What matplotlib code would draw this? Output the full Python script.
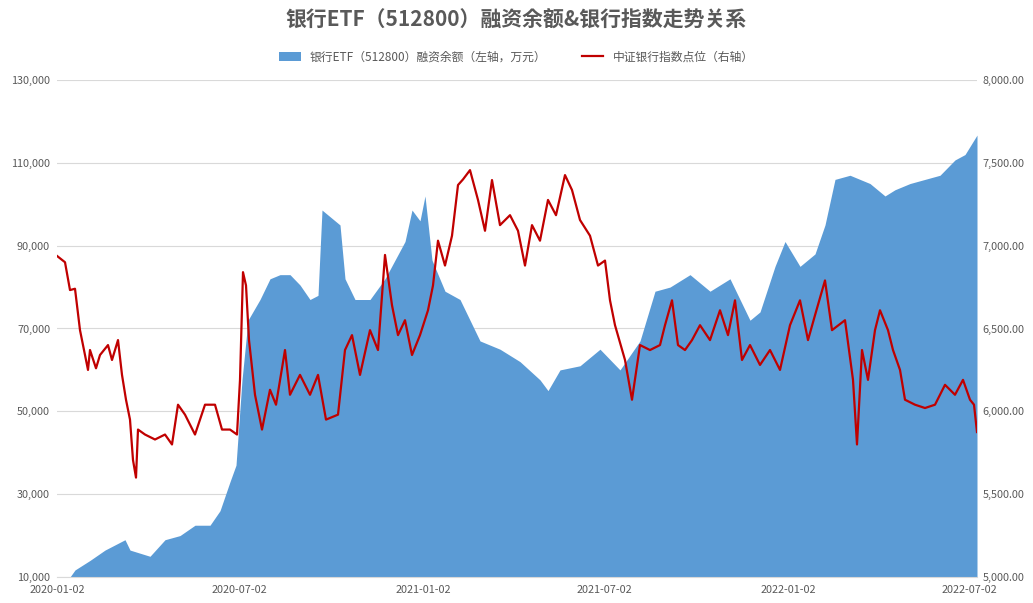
import matplotlib
matplotlib.use("Agg")
import matplotlib.pyplot as plt
from matplotlib import font_manager as fm
import numpy as np
import datetime as dt

cjk = [f.name for f in fm.fontManager.ttflist if "CJK" in f.name]
pref = [n for n in ["Noto Sans CJK SC", "Noto Sans CJK JP", "Noto Sans CJK TC", "Noto Sans CJK KR"] if n in cjk] or cjk[:1]
plt.rcParams["font.family"] = pref + ["DejaVu Sans"]

start = dt.date(2020, 1, 2)
area_days = [13,18,33,48,68,73,93,108,123,138,153,163,173,179,185,191,203,213,223,233,243,253,261,265,273,283,288,298,313,328,338,348,355,363,368,375,388,403,413,423,443,463,483,491,503,523,543,563,583,598,613,633,653,673,693,703,718,728,743,758,768,778,793,813,828,838,853,868,883,898,908,920]
area_vals = [10000,11700,14000,16500,19000,16500,15000,19000,20000,22500,22500,26000,33000,37000,57600,72000,77000,82000,83000,83000,80500,77000,78000,98600,97000,95000,82000,77000,77000,82000,86500,91000,98600,96000,102000,86500,79000,77000,72000,67000,65000,62000,57600,55000,60000,61000,65000,60000,67000,79000,80000,83000,79000,82000,72000,74000,85000,91000,85000,88000,95000,106000,107000,105000,102000,103500,105000,106000,107000,110700,112000,116700]

idx_days = [0,8,13,18,23,31,33,39,43,51,55,61,65,69,73,76,79,81,88,98,108,115,121,128,138,148,158,165,173,180,183,186,189,192,198,205,213,219,228,233,243,253,261,269,281,288,295,303,313,321,328,335,341,348,355,363,371,376,381,388,395,401,406,413,421,428,435,443,453,461,468,475,483,491,499,508,515,523,533,541,548,553,558,568,575,583,593,603,608,615,621,628,635,643,653,663,671,678,685,693,703,713,723,733,743,751,758,768,775,788,796,800,805,811,818,823,831,836,843,848,858,868,878,888,898,906,913,917,920]
idx_vals = [6938,6900,6732,6740,6490,6250,6370,6260,6340,6400,6310,6430,6220,6070,5950,5706,5600,5890,5860,5830,5860,5800,6040,5980,5860,6040,6040,5890,5890,5860,6190,6840,6760,6430,6100,5890,6130,6040,6370,6100,6220,6100,6220,5950,5980,6370,6460,6220,6490,6370,6944,6640,6460,6550,6340,6460,6610,6760,7030,6880,7060,7366,7400,7456,7276,7090,7396,7124,7184,7090,6880,7124,7030,7276,7184,7426,7336,7155,7060,6880,6910,6670,6520,6310,6070,6400,6370,6400,6520,6670,6400,6370,6430,6520,6430,6610,6460,6670,6310,6400,6280,6370,6250,6520,6670,6430,6580,6790,6490,6550,6190,5800,6370,6190,6490,6610,6490,6370,6250,6070,6040,6020,6040,6160,6100,6190,6070,6040,5875]

xticks = ["2020-01-02","2020-07-02","2021-01-02","2021-07-02","2022-01-02","2022-07-02"]

ad = [start + dt.timedelta(days=d) for d in area_days]
idd = [start + dt.timedelta(days=d) for d in idx_days]

fig = plt.figure(figsize=(10.33, 6.03), dpi=100)
ax = fig.add_axes([57/1033, 26/603, 920/1033, 497/603])
ax2 = ax.twinx()
ax.fill_between(ad, area_vals, 10000, color="#5b9bd5", lw=0, label="银行ETF（512800）融资余额（左轴，万元）")
ax2.plot(idd, idx_vals, color="#c00000", lw=1.6, label="中证银行指数点位（右轴）")

ax.set_ylim(10000, 130000)
ax.set_yticks(np.arange(10000, 130001, 20000))
ax.set_yticklabels([f"{v:,}" for v in range(10000, 130001, 20000)])
ax2.set_ylim(5000, 8000)
ax2.set_yticks(np.arange(5000, 8001, 500))
ax2.set_yticklabels([f"{v:,}.00" for v in range(5000, 8001, 500)])
ax.set_xlim(start, start + dt.timedelta(days=920))
ax.set_xticks([dt.date.fromisoformat(t) for t in xticks])
ax.set_xticklabels(xticks)
ax.grid(axis="y", color="#d9d9d9", lw=0.8)
ax.set_axisbelow(True)
for a in (ax, ax2):
    for s in a.spines.values():
        s.set_visible(False)
    a.tick_params(length=0, labelsize=7.8, colors="#595959")
ax.spines["bottom"].set_visible(True)
ax.spines["bottom"].set_color("#d9d9d9")
ax.tick_params(axis="y", pad=5)
ax2.tick_params(axis="y", pad=4)
ax.tick_params(axis="x", pad=6)

fig.text(0.5, 1 - 20/603, "银行ETF（512800）融资余额&银行指数走势关系", ha="center", va="center",
         fontsize=15, fontweight="bold", color="#595959")
h1, l1 = ax.get_legend_handles_labels()
h2, l2 = ax2.get_legend_handles_labels()
fig.legend(h1 + h2, l1 + l2, loc="center", bbox_to_anchor=(0.5, 1 - 57/603), ncol=2, frameon=False,
           fontsize=8.5, labelcolor="#595959", handlelength=1.8, columnspacing=3)
fig.savefig("out.png", dpi=100)
